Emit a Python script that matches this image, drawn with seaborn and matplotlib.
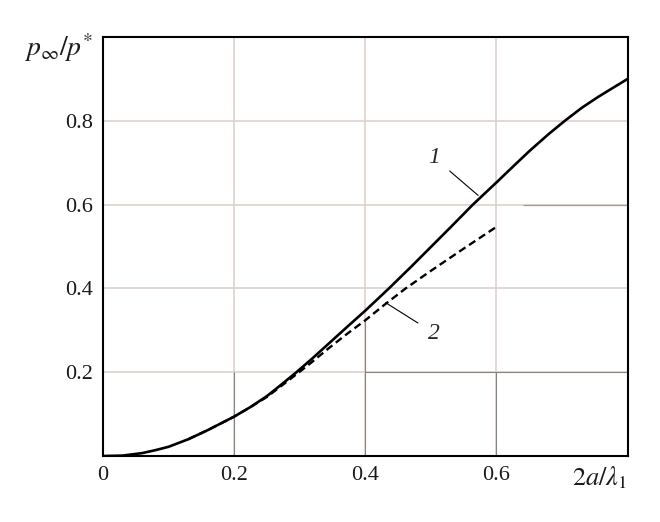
import numpy as np
import pandas as pd
import matplotlib
matplotlib.use("Agg")
import matplotlib.pyplot as plt
import seaborn as sns

# curve 1 (solid)
x_solid = [0.0, 0.03, 0.06, 0.08, 0.1, 0.13, 0.16, 0.2, 0.225, 0.25, 0.27, 0.295,
           0.32, 0.344, 0.37, 0.4, 0.436, 0.47, 0.5, 0.53, 0.564, 0.6, 0.63,
           0.651, 0.68, 0.705, 0.73, 0.755, 0.78, 0.8]
y_solid = [0.0, 0.001, 0.007, 0.014, 0.022, 0.040, 0.062, 0.094, 0.117, 0.143, 0.168, 0.200,
           0.234, 0.268, 0.305, 0.347, 0.400, 0.452, 0.499, 0.546, 0.600, 0.653, 0.698,
           0.729, 0.769, 0.801, 0.831, 0.857, 0.881, 0.900]

# curve 2 (dashed)
x_dash = [0.13, 0.16, 0.2, 0.225, 0.25, 0.27, 0.295, 0.32, 0.344, 0.37, 0.4,
          0.43, 0.4615, 0.5, 0.55, 0.6]
y_dash = [0.040, 0.062, 0.094, 0.117, 0.141, 0.165, 0.195, 0.226, 0.257, 0.289, 0.324,
          0.362, 0.400, 0.442, 0.495, 0.547]

x_ticks = [0.0, 0.2, 0.4, 0.6]
x_tick_labels = ["0", "0.2", "0.4", "0.6"]
y_ticks = [0.2, 0.4, 0.6, 0.8]
y_tick_labels = ["0.2", "0.4", "0.6", "0.8"]

sns.set_theme(style="white")
plt.rcParams["font.family"] = ["Liberation Serif", "DejaVu Serif"]
plt.rcParams["mathtext.fontset"] = "stix"

fig = plt.figure(figsize=(6.6, 5.22), dpi=100)
ax = fig.add_axes([0.156, 0.1264, 0.795, 0.8027])

light = "#dccdc7"
dark = "#8a827e"
for v in x_ticks[1:]:
    ax.axvline(v, color=light, lw=1.1, zorder=1)
for v in y_ticks:
    ax.axhline(v, color=light, lw=1.1, zorder=1)

# darker grid pieces seen in the scan
ax.vlines([0.2, 0.6], 0, 0.2, color=dark, lw=0.8, zorder=1.5)
ax.vlines(0.4, 0, 0.33, color=dark, lw=0.8, zorder=1.5)
ax.hlines(0.2, 0.4, 0.8, color=dark, lw=0.8, zorder=1.5)
ax.hlines(0.6, 0.64, 0.8, color="#a39a95", lw=0.9, zorder=1.5)

df1 = pd.DataFrame({"x": x_solid, "y": y_solid})
df2 = pd.DataFrame({"x": x_dash, "y": y_dash})
sns.lineplot(data=df1, x="x", y="y", ax=ax, color="black", linewidth=1.9,
             estimator=None, sort=False, zorder=3)
sns.lineplot(data=df2, x="x", y="y", ax=ax, color="black", linewidth=1.7,
             estimator=None, sort=False, linestyle=(0, (3.2, 1.8)), zorder=3)

ax.set_xlim(0, 0.8)
ax.set_ylim(0, 1.0)
ax.set_xticks(x_ticks)
ax.set_xticklabels(x_tick_labels)
ax.set_yticks(y_ticks)
ax.set_yticklabels(y_tick_labels)
ax.tick_params(length=0, labelsize=16, colors="#1a1a1a", pad=7)
ax.set_xlabel("")
ax.set_ylabel("")
for s in ax.spines.values():
    s.set_color("black")
    s.set_linewidth(1.5)
    s.set_zorder(4)

ax.text(-0.018, 0.975, r"$p_{\infty}/p^{*}$", transform=ax.transAxes,
        ha="right", va="center", fontsize=20, color="#1a1a1a")
ax.text(1.0, -0.02, r"$2a/\lambda_{1}$", transform=ax.transAxes,
        ha="right", va="top", fontsize=19, color="#1a1a1a")

# curve labels and leaders
ax.annotate("1", xy=(0.572, 0.622), xytext=(0.505, 0.712), fontsize=17,
            style="italic", ha="center", va="center",
            arrowprops=dict(arrowstyle="-", color="black", lw=0.8,
                            shrinkA=6, shrinkB=0))
ax.annotate("2", xy=(0.431, 0.366), xytext=(0.505, 0.293), fontsize=17,
            style="italic", ha="center", va="center",
            arrowprops=dict(arrowstyle="-", color="black", lw=0.8,
                            shrinkA=6, shrinkB=0))

fig.savefig("out.png", dpi=100)
